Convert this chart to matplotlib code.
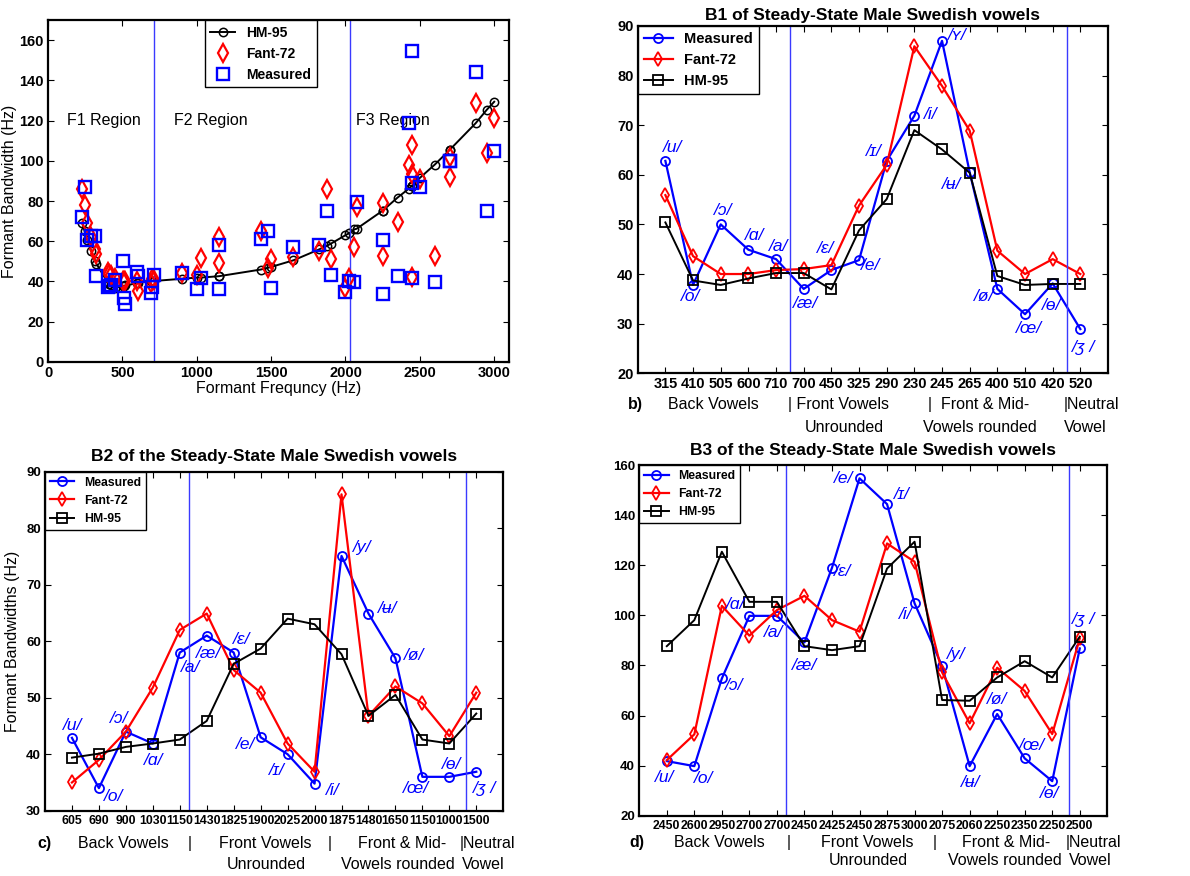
import matplotlib
matplotlib.use('Agg')
import matplotlib.pyplot as plt


plt.rcParams['font.family'] = ['Liberation Sans', 'DejaVu Sans']
plt.rcParams['axes.linewidth'] = 1.6
plt.rcParams['xtick.direction'] = 'in'
plt.rcParams['ytick.direction'] = 'in'
plt.rcParams['xtick.major.size'] = 4
plt.rcParams['ytick.major.size'] = 4

BLUE = '#0000FF'
RED = '#FF0000'
VLINE = '#3a3aff'

# vowel symbols (same order in b, c, d)
vowels_b = ['/u/', '/o/', '/ɔ/', '/ɑ/', '/a/', '/æ/', '/ɛ/', '/e/',
            '/ɪ/', '/i/', '/ʏ/', '/ʉ/', '/ø/', '/œ/', '/ɵ/', '/ʒ /']
vowels_cd = ['/u/', '/o/', '/ɔ/', '/ɑ/', '/a/', '/æ/', '/ɛ/', '/e/',
             '/ɪ/', '/i/', '/y/', '/ʉ/', '/ø/', '/œ/', '/ɵ/', '/ʒ /']

# formant frequencies (tick labels)
f1 = [315, 410, 505, 600, 710, 700, 450, 325, 290, 230, 245, 265, 400, 510, 420, 520]
f2 = [605, 690, 900, 1030, 1150, 1430, 1825, 1900, 2025, 2000, 1875, 1480, 1650, 1150, 1000, 1500]
f3 = [2450, 2600, 2950, 2700, 2700, 2450, 2425, 2450, 2875, 3000, 2075, 2060, 2250, 2350, 2250, 2500]

# B1
b1_measured = [62.8, 37.8, 50, 44.9, 43, 37, 40.8, 42.8, 62.8, 71.9, 87, 60.5, 37, 31.9, 38.1, 28.9]
b1_fant = [55.9, 43.6, 40, 40, 40.8, 41, 41.8, 53.8, 62, 85.9, 77.9, 68.9, 44.7, 40, 43, 40]
b1_hm = [50.4, 38.7, 37.8, 39.1, 40.2, 40.2, 36.9, 48.8, 55.1, 69, 65.1, 60.4, 39.6, 37.8, 38, 38]

# B2
b2_measured = [42.9, 34, 44, 41.9, 58, 61, 58, 43, 40, 34.8, 75.1, 64.9, 57, 36, 36, 36.9]
b2_fant = [35, 39, 44, 51.8, 62, 64.9, 54.9, 50.9, 41.9, 36.9, 86, 46.8, 52, 49, 43.2, 50.9]
b2_hm = [39.4, 40.1, 41.3, 41.9, 42.6, 45.9, 56, 58.7, 64, 63, 57.7, 46.8, 50.5, 42.6, 41.9, 47.2]

# B3
b3_measured = [41.8, 39.8, 74.8, 99.8, 99.8, 89.2, 119, 154.7, 144.4, 104.8, 79.7, 39.8, 60.6, 42.9, 33.8, 86.8]
b3_fant = [42.2, 52.5, 103.8, 91.9, 102.1, 107.8, 98.1, 93.5, 128.7, 121.4, 77.2, 56.9, 79.1, 69.8, 52.6, 90.8]
b3_hm = [87.7, 98.1, 125.4, 105.4, 105.4, 87.7, 86.1, 87.7, 118.7, 129.4, 66.2, 65.9, 75.2, 81.7, 75.2, 91.5]

# vowel label offsets (pixels, relative to measured point)
offs_b = [(7, 13), (-2, -12), (3, 14), (6, 14), (3, 13), (2, -15), (-6, 22), (12, -5),
          (-13, 9), (16, 1), (15, 5), (-18, -12), (-13, -8), (4, -14), (-1, -22), (3, -18)]
offs_c = [(1, 12), (15, -8), (-7, 13), (1, -17), (11, -15), (2, -18), (8, 13), (-15, -7),
          (-11, -16), (18, -7), (21, 8), (19, 5), (19, 3), (-6, -12), (2, 12), (8, -17)]
offs_d = [(-2, -16), (9, -12), (12, -7), (-14, 11), (-3, -17), (0, -23), (11, -4), (-16, 0),
          (15, 10), (-9, -11), (14, 12), (1, -16), (0, 15), (7, 13), (-3, -12), (4, 29)]


fig = plt.figure(figsize=(11.9, 8.76), dpi=100)


def setup_ticks(ax, xsize, ysize):
    ax.tick_params(top=True, right=True, pad=3)
    ax.tick_params(axis='x', labelsize=xsize)
    ax.tick_params(axis='y', labelsize=ysize)
    for lab in ax.get_xticklabels() + ax.get_yticklabels():
        lab.set_fontweight('bold')


# ---------- a) all formants ----------
ax = fig.add_axes([0.0404, 0.587, 0.3874, 0.390])
freq_all = f1 + f2 + f3
meas_all = b1_measured + b2_measured + b3_measured
fant_all = b1_fant + b2_fant + b3_fant
hm_all = b1_hm + b2_hm + b3_hm
order = sorted(range(len(freq_all)), key=lambda i: (freq_all[i], hm_all[i]))

ax.plot([freq_all[i] for i in order], [hm_all[i] for i in order], '-o', color='black',
        mfc='none', ms=6, mew=1.1, lw=1.4, label='HM-95', zorder=2)
ax.plot(freq_all, fant_all, 'd', color=RED, mfc='none', ms=9, mew=1.6,
        label='Fant-72', zorder=3)
ax.plot(freq_all, meas_all, 's', color=BLUE, mfc='none', ms=8.5, mew=1.7,
        label='Measured', zorder=4)
ax.axvline(715, color=VLINE, lw=1)
ax.axvline(2027, color=VLINE, lw=1)
ax.set_xlim(0, 3100)
ax.set_ylim(0, 170)
ax.set_xticks(range(0, 3001, 500))
ax.set_yticks(range(0, 161, 20))
ax.text(130, 120, 'F1 Region', fontsize=11.5, va='center')
ax.text(850, 120, 'F2 Region', fontsize=11.5, va='center')
ax.text(2071, 120, 'F3 Region', fontsize=11.5, va='center')
ax.set_xlabel('Formant Frequncy (Hz)', fontsize=11.5, labelpad=1)
ax.set_ylabel('Formant Bandwidth (Hz)', fontsize=11.5, labelpad=2)
setup_ticks(ax, 10.5, 10.5)
ax.legend(loc='upper left', bbox_to_anchor=(0.34, 1.0), borderaxespad=0,
          fancybox=False, edgecolor='black', framealpha=1, handlelength=1.8,
          prop={'size': 10, 'weight': 'bold'}).get_frame().set_linewidth(1)


def draw_panel(rect, freqs, meas, fant, hm, ylim, ystep, title, title_pad, vowels, offs,
               vlines, xsize, ysize, leg_size, letter, line1, line2):
    ax = fig.add_axes(rect)
    x = list(range(1, len(freqs) + 1))
    ax.plot(x, meas, '-o', color=BLUE, mfc='none', ms=6.5, mew=1.3, lw=1.6, label='Measured')
    ax.plot(x, fant, '-d', color=RED, mfc='none', ms=7.5, mew=1.3, lw=1.6, label='Fant-72')
    ax.plot(x, hm, '-s', color='black', mfc='none', ms=7.5, mew=1.3, lw=1.4, label='HM-95')
    for v in vlines:
        ax.axvline(v, color=VLINE, lw=1)
    for xi, yi, v, (dx, dy) in zip(x, meas, vowels, offs):
        ax.annotate(v, (xi, yi), xytext=(dx, dy), textcoords='offset pixels',
                    ha='center', va='center', color=BLUE, fontsize=12.5, style='italic')
    ax.set_xlim(0, 17)
    ax.set_ylim(*ylim)
    ax.set_xticks(x)
    ax.set_xticklabels([str(f) for f in freqs])
    ax.set_yticks(range(ylim[0], ylim[1] + 1, ystep))
    ax.set_title(title, fontsize=12.5, fontweight='bold', pad=title_pad)
    setup_ticks(ax, xsize, ysize)
    leg = ax.legend(loc='upper left', borderaxespad=0, fancybox=False, edgecolor='black',
                    framealpha=1, handlelength=2.0, prop={'size': leg_size, 'weight': 'bold'})
    leg.get_frame().set_linewidth(1)
    tr = ax.get_xaxis_transform()
    ax.text(letter[0], letter[1], letter[2], transform=tr, fontsize=11.5,
            fontweight='bold', ha='left', va='center')
    for xx, txt in line1[1]:
        ax.text(xx, line1[0], txt, transform=tr, fontsize=11.5, ha='left', va='center')
    for xx, txt in line2[1]:
        ax.text(xx, line2[0], txt, transform=tr, fontsize=11.5, ha='left', va='center')
    return ax


# ---------- b) B1 ----------
draw_panel([0.5359, 0.5739, 0.3952, 0.3965], f1, b1_measured, b1_fant, b1_hm,
           (20, 90), 10, 'B1 of Steady-State Male Swedish vowels', 4, vowels_b, offs_b,
           [5.5, 15.5], 10.5, 10.5, 10.5,
           (-0.34, -0.091, 'b)'),
           (-0.091, [(1.11, 'Back Vowels'), (5.44, '| Front Vowels'),
                     (10.5, '|  Front & Mid-'), (15.4, '|Neutral')]),
           (-0.155, [(6.05, 'Unrounded'), (10.31, 'Vowels rounded'), (15.4, 'Vowel')]))

# ---------- c) B2 ----------
ax_c = draw_panel([0.0378, 0.0745, 0.3851, 0.387], f2, b2_measured, b2_fant, b2_hm,
                  (30, 90), 10, 'B2 of the Steady-State Male Swedish vowels', 8, vowels_cd, offs_c,
                  [5.36, 15.6], 8.8, 9.5, 8.8,
                  (-0.28, -0.097, 'c)'),
                  (-0.097, [(1.21, 'Back Vowels'), (5.3, '|'), (6.46, 'Front Vowels'),
                            (10.5, '|'), (11.62, 'Front & Mid-'), (15.4, '|Neutral')]),
                  (-0.160, [(6.74, 'Unrounded'), (10.97, 'Vowels rounded'), (15.47, 'Vowel')]))
ax_c.set_ylabel('Formant Bandwidths (Hz)', fontsize=11.5, labelpad=4)

# ---------- d) B3 ----------
draw_panel([0.5372, 0.0688, 0.3933, 0.4003], f3, b3_measured, b3_fant, b3_hm,
           (20, 160), 20, 'B3 of the Steady-State Male Swedish vowels', 7, vowels_cd, offs_d,
           [5.34, 15.6], 8.8, 9.5, 8.8,
           (-0.36, -0.075, 'd)'),
           (-0.075, [(1.27, 'Back Vowels'), (5.36, '|'), (6.6, 'Front Vowels'),
                     (10.65, '|'), (11.73, 'Front & Mid-'), (15.5, '|Neutral')]),
           (-0.129, [(6.88, 'Unrounded'), (11.2, 'Vowels rounded'), (15.6, 'Vowel')]))

fig.savefig('out.png', dpi=100)
